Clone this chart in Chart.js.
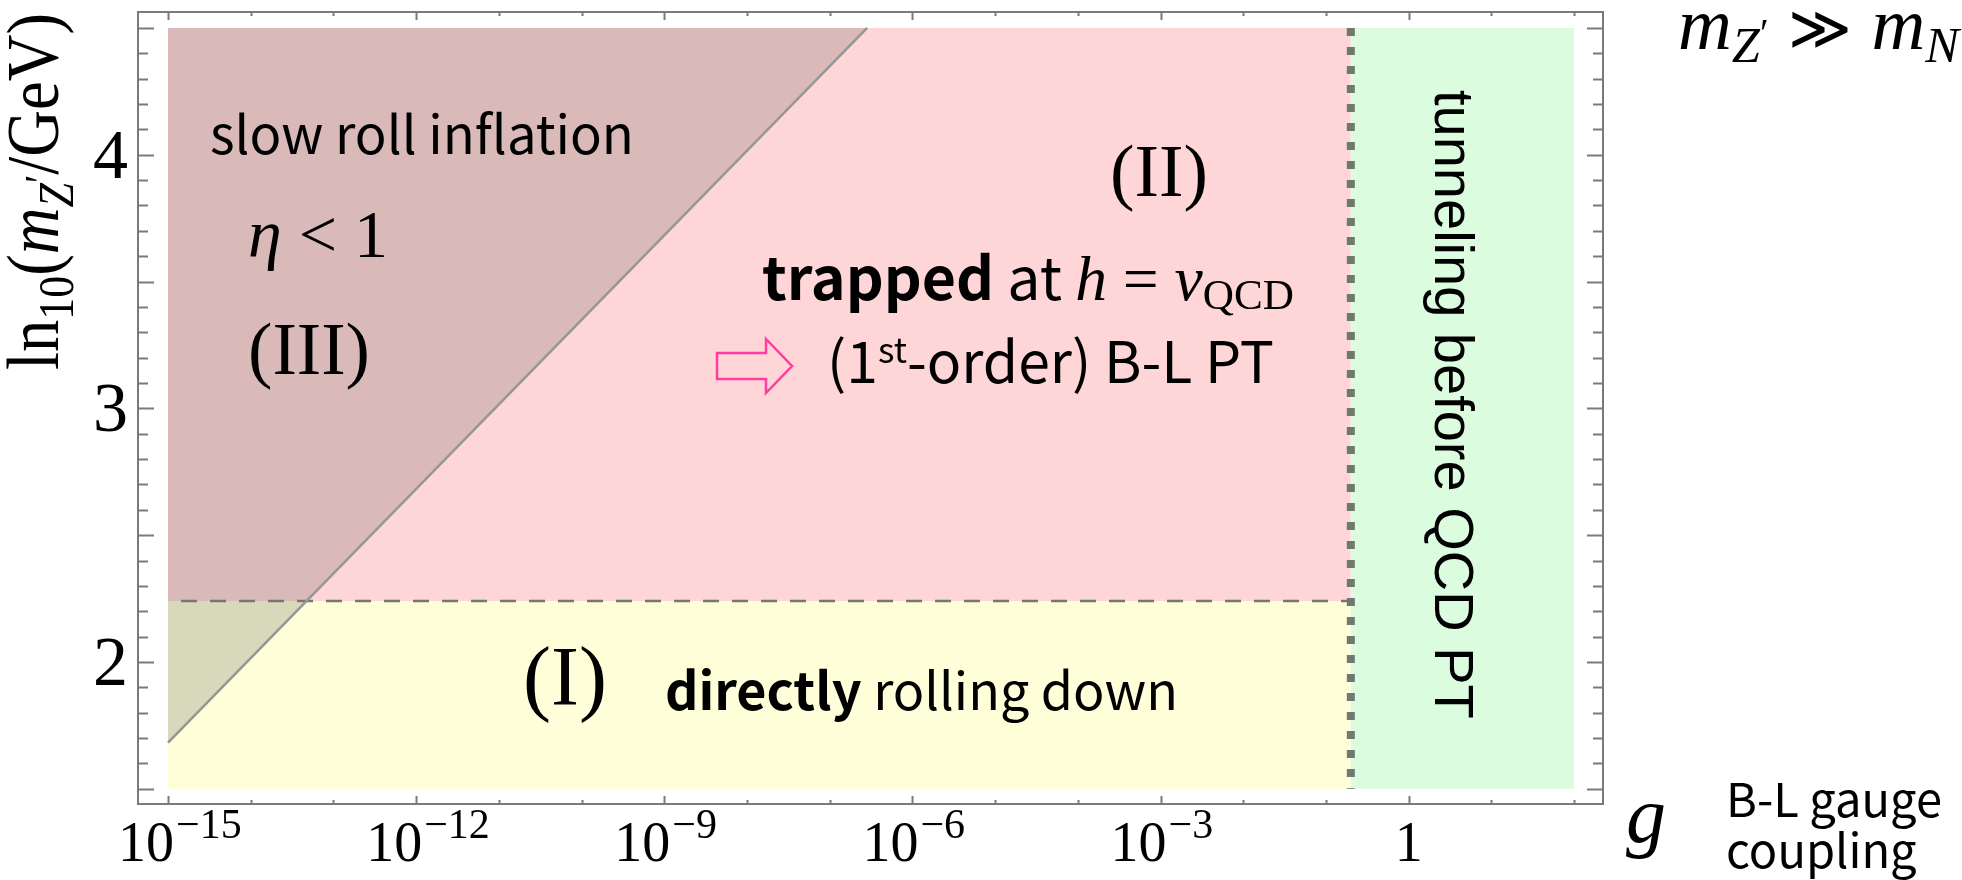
<!DOCTYPE html>
<html lang="en">
<head>
<meta charset="UTF-8" />
<title>B-L phase regions</title>
<script src="https://cdn.jsdelivr.net/npm/chart.js"></script>
<style>
  html, body { margin: 0; padding: 0; background: #fff; }
</style>
</head>
<body>
<canvas id="myChart" width="1962" height="880"></canvas>
<script>
// region boundaries
// x: gauge coupling g (log axis), y: log10(m_Z'/GeV)
const gRange = [1e-15, 1e2];
const yRange = [1.5, 4.5];
const gTunnel = 0.2;          // dotted line, tunneling before QCD PT
const yTrap = 2.24;           // dashed line, trapped / directly rolling
const slowRollG = [1e-15, 2.84e-7];   // slow roll boundary (straight line)
const slowRollY = [1.682, 4.5];

const xTickExps = [-15, -14, -13, -12, -11, -10, -9, -8, -7, -6, -5, -4, -3, -2, -1, 0, 1, 2];
const xLabelExps = [-15, -12, -9, -6, -3, 0];
const yLabels = [2, 3, 4];

const serif = '"Liberation Serif", "DejaVu Serif", serif';
const sans = '"Noto Sans CJK JP", "Noto Sans", sans-serif';
const sans2 = '"Liberation Sans", Arial, sans-serif';

function runFont(r, k) {
  return `${r.st || 'normal'} ${r.wt || 'normal'} ${r.s * k}px ${r.f}`;
}
function measureRuns(ctx, runs, k) {
  let w = 0;
  for (const r of runs) {
    ctx.font = runFont(r, k);
    w += ctx.measureText(r.t).width;
  }
  return w;
}
function drawRuns(ctx, x, y, runs, k) {
  let cx = x;
  for (const r of runs) {
    ctx.font = runFont(r, k);
    ctx.fillText(r.t, cx, y + (r.dy || 0) * k);
    cx += ctx.measureText(r.t).width;
  }
}

// text boxes: left x, baseline y, target width
const notes = [
  { x: 210, y: 154, w: 424, runs: [{ t: 'slow roll inflation', s: 50, f: sans }] },
  { x: 248, y: 257, w: 140, runs: [{ t: 'η', s: 54, f: serif, st: 'italic' }, { t: ' < 1', s: 54, f: serif }] },
  { x: 248, y: 374, w: 122, runs: [{ t: '(III)', s: 62, f: serif }] },
  { x: 1110, y: 196, w: 98, runs: [{ t: '(II)', s: 66, f: serif }] },
  { x: 523, y: 705, w: 84, runs: [{ t: '(I)', s: 74, f: serif }] },
  { x: 762, y: 300, w: 532, runs: [
    { t: 'trapped', s: 52, f: sans, wt: 'bold' },
    { t: ' at ', s: 52, f: sans },
    { t: 'h', s: 56, f: serif, st: 'italic' },
    { t: ' = ', s: 56, f: serif },
    { t: 'v', s: 56, f: serif, st: 'italic' },
    { t: 'QCD', s: 38, f: serif, dy: 8 }] },
  { x: 827, y: 383, w: 447, runs: [
    { t: '(1', s: 52, f: sans },
    { t: 'st', s: 32, f: sans, dy: -18 },
    { t: '-order) B-L PT', s: 52, f: sans }] },
  { x: 665, y: 710, w: 513, runs: [
    { t: 'directly', s: 52, f: sans, wt: 'bold' },
    { t: ' rolling down', s: 52, f: sans }] },
  { x: 1678, y: 49, w: 281, runs: [
    { t: 'm', s: 56, f: serif, st: 'italic' },
    { t: 'Z', s: 38, f: serif, st: 'italic', dy: 10 },
    { t: '′', s: 30, f: serif, dy: -2 },
    { t: ' ≫ ', s: 46, f: '"DejaVu Serif", serif' },
    { t: 'm', s: 56, f: serif, st: 'italic' },
    { t: 'N', s: 38, f: serif, st: 'italic', dy: 10 }] },
  { x: 1626, y: 842, w: 40, runs: [{ t: 'g', s: 80, f: serif, st: 'italic' }] },
];

const yTitle = [
  { t: 'ln', s: 50, f: serif },
  { t: '10', s: 34, f: serif, dy: 10 },
  { t: '(', s: 50, f: serif },
  { t: 'm', s: 50, f: serif, st: 'italic' },
  { t: 'Z', s: 34, f: serif, st: 'italic', dy: 10 },
  { t: '′', s: 30, f: serif, dy: -2 },
  { t: '/GeV)', s: 50, f: serif },
];

const overlay = {
  id: 'overlay',
  afterDraw(chart) {
    const { ctx, chartArea: a } = chart;
    const xs = chart.scales.x, ys = chart.scales.y;
    ctx.save();

    // frame with inward ticks
    ctx.strokeStyle = '#7a7a7a';
    ctx.lineWidth = 2;
    ctx.strokeRect(a.left, a.top, a.right - a.left, a.bottom - a.top);
    ctx.beginPath();
    for (const e of xTickExps) {
      const px = Math.round(xs.getPixelForValue(Math.pow(10, e))) + 0.5;
      const len = e % 3 === 0 ? 8 : 4;
      ctx.moveTo(px, a.bottom); ctx.lineTo(px, a.bottom - len);
      ctx.moveTo(px, a.top); ctx.lineTo(px, a.top + len);
    }
    for (let i = 0; i <= 30; i++) {
      const v = yRange[0] + i * 0.1;
      const py = Math.round(ys.getPixelForValue(v)) + 0.5;
      const len = i % 5 === 0 ? 16 : 10;
      ctx.moveTo(a.left, py); ctx.lineTo(a.left + len, py);
      ctx.moveTo(a.right, py); ctx.lineTo(a.right - len, py);
    }
    ctx.stroke();

    ctx.fillStyle = '#000';
    ctx.textBaseline = 'alphabetic';

    // x tick labels
    for (const e of xLabelExps) {
      const px = xs.getPixelForValue(Math.pow(10, e));
      if (e === 0) {
        ctx.font = `56px ${serif}`;
        ctx.textAlign = 'center';
        ctx.fillText('1', px, 861);
        continue;
      }
      ctx.textAlign = 'right';
      ctx.font = `56px ${serif}`;
      ctx.fillText('10', px + 6, 861);
      ctx.textAlign = 'left';
      ctx.font = `42px ${serif}`;
      ctx.fillText('−' + Math.abs(e), px + 8, 838);
    }

    // y tick labels
    ctx.textAlign = 'right';
    ctx.font = `70px ${serif}`;
    for (const v of yLabels) {
      ctx.fillText(String(v), 128, ys.getPixelForValue(v) + 23);
    }

    // y axis title, rotated
    ctx.textAlign = 'left';
    ctx.save();
    ctx.translate(58, 370);
    ctx.rotate(-Math.PI / 2);
    ctx.scale(1, 1.16);
    drawRuns(ctx, 0, 0, yTitle, 357 / measureRuns(ctx, yTitle, 1));
    ctx.restore();

    // annotations
    for (const n of notes) {
      drawRuns(ctx, n.x, n.y, n.runs, n.w / measureRuns(ctx, n.runs, 1));
    }
    const gauge = [{ t: 'B-L gauge', s: 44, f: sans }];
    const kg = 216 / measureRuns(ctx, gauge, 1);
    drawRuns(ctx, 1726, 817, gauge, kg);
    drawRuns(ctx, 1726, 868, [{ t: 'coupling', s: 44, f: sans }], kg);

    // rotated label in green band
    ctx.save();
    ctx.translate(1435, 90);
    ctx.rotate(Math.PI / 2);
    ctx.font = `56px ${sans2}`;
    ctx.fillText('tunneling before QCD PT', 0, 0);
    ctx.restore();

    // hollow arrow
    ctx.strokeStyle = '#ff3d9e';
    ctx.lineWidth = 2.5;
    ctx.lineJoin = 'miter';
    ctx.beginPath();
    ctx.moveTo(717, 353); ctx.lineTo(766, 353); ctx.lineTo(766, 339);
    ctx.lineTo(792, 366); ctx.lineTo(766, 393); ctx.lineTo(766, 379);
    ctx.lineTo(717, 379); ctx.closePath();
    ctx.stroke();

    ctx.restore();
  }
};

const ctx = document.getElementById('myChart').getContext('2d');
const myChart = new Chart(ctx, {
  type: 'line',
  data: {
    datasets: [
      { // (III) slow roll: top edge, filled down to the boundary line
        data: [{ x: slowRollG[0], y: yRange[1] }, { x: slowRollG[1], y: yRange[1] }],
        fill: 1, backgroundColor: 'rgba(80, 85, 84, 0.22)', borderWidth: 0, order: 2 },
      { // slow roll boundary
        data: [{ x: slowRollG[0], y: slowRollY[0] }, { x: slowRollG[1], y: slowRollY[1] }],
        fill: false, borderColor: '#969696', borderWidth: 2.5, order: 1 },
      { // trapped boundary
        data: [{ x: gRange[0], y: yTrap }, { x: gTunnel, y: yTrap }],
        fill: false, borderColor: '#77776f', borderWidth: 2.5,
        borderDash: [16, 13], borderDashOffset: 16, order: 1 },
      { // tunneling boundary
        data: [{ x: gTunnel, y: yRange[1] }, { x: gTunnel, y: yRange[0] }],
        fill: false, borderColor: '#6f7a6f', borderWidth: 8,
        borderDash: [8, 11], borderCapStyle: 'butt', order: 0 },
      { // (II)
        data: [{ x: gRange[0], y: yRange[1] }, { x: gTunnel, y: yRange[1] }],
        fill: { value: yTrap }, backgroundColor: '#ffd6d7', borderWidth: 0, order: 5 },
      { // (I)
        data: [{ x: gRange[0], y: yTrap }, { x: gTunnel, y: yTrap }],
        fill: { value: yRange[0] }, backgroundColor: '#fefed8', borderWidth: 0, order: 5 },
      { // tunneling region
        data: [{ x: gTunnel, y: yRange[1] }, { x: gRange[1], y: yRange[1] }],
        fill: { value: yRange[0] }, backgroundColor: '#dcfcdf', borderWidth: 0, order: 5 },
    ],
  },
  options: {
    responsive: false,
    animation: false,
    layout: { padding: { left: 138, right: 359, top: 12, bottom: 76 } },
    elements: { point: { radius: 0 }, line: { tension: 0 } },
    scales: {
      x: { type: 'logarithmic', bounds: 'data', min: Math.pow(10, -15.363), max: Math.pow(10, 2.35), display: false },
      y: { type: 'linear', bounds: 'data', min: 1.44, max: 4.563, display: false },
    },
    plugins: { legend: { display: false }, tooltip: { enabled: false } },
  },
  plugins: [overlay],
});
</script>
</body>
</html>
